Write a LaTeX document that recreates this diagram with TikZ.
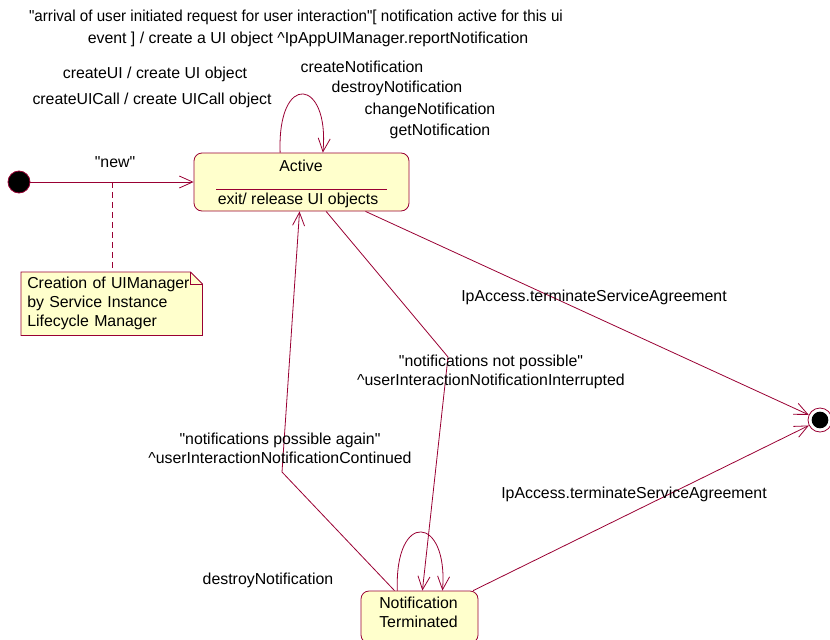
\documentclass[tikz,border=0pt]{standalone}
\usepackage{fontspec}
\setmainfont{Liberation Sans}
\usetikzlibrary{arrows.meta, positioning, backgrounds}
\definecolor{umlline}{RGB}{153, 0, 51}
\definecolor{umlfill}{RGB}{255, 255, 204}

\begin{document}
\begin{tikzpicture}[x=0.75pt, y=-0.75pt,
    lbl/.style={font=\fontsize{11.9}{14.3}\selectfont, inner sep=0pt, align=center},
    state/.style={draw=umlline, fill=umlfill, rounded corners=6pt, line width=0.6pt, inner sep=0pt},
    trans/.style={draw=umlline, line width=0.6pt, -{Straight Barb[length=10pt, width=9pt]}},
    ]
    \useasboundingbox (0,0) rectangle (830,639);

    % states
    \node[circle, fill=black, draw=umlline, line width=0.6pt, minimum size=16.5pt, inner sep=0pt] (init) at (19,182) {};
    \node[state, minimum width=161.25pt, minimum height=43.5pt] (active) at (301.5,182) {};
    \node[lbl] (activename) at (301,166) {Active};
    \draw[umlline, line width=0.6pt] (216,189) -- (387,189);
    \node[lbl] (activeexit) at (298,200) {exit/ release UI objects};
    \node[state, minimum width=87.75pt, minimum height=39pt] (term) at (419.5,617) {};
    \node[lbl] (termname) at (418.5,612.5) {Notification\\Terminated};
    \node[circle, draw=umlline, fill=white, line width=0.6pt, minimum size=18pt, inner sep=0pt] (final) at (820,420) {};
    \node[circle, fill=black, minimum size=12.5pt, inner sep=0pt] (finaldot) at (final) {};

    % note
    \node[lbl, align=left, anchor=north west, text width=126.75pt, inner xsep=4.5pt,
          minimum height=47.25pt] (note) at (21,272) {Creation of UIManager\\by Service Instance\\Lifecycle Manager};
    \begin{scope}[on background layer]
        \filldraw[draw=umlline, fill=umlfill, line width=0.6pt] (note.north west) -- ([xshift=-9pt]note.north east)
            -- ([yshift=-9pt]note.north east) -- (note.south east) -- (note.south west) -- cycle;
        \draw[umlline, line width=0.6pt] ([xshift=-9pt]note.north east) |- ([yshift=-9pt]note.north east);
    \end{scope}

    % transitions
    \draw[trans] (init) -- coordinate[pos=0.5] (newpt) (active);
    \node[lbl] (newlbl) at (115,162) {\textquotedbl new\textquotedbl};
    \draw[umlline, dashed, line width=0.6pt, dash pattern=on 4.5pt off 3pt] (newpt) -- (newpt |- note.north);

    \draw[trans] (active.126.6) .. controls +(-3,-82) and +(7,-74) .. (active.54.7);
    \node[lbl, font=\fontsize{11.9}{16.5}\selectfont] (arrival) at (296,28)
        {\scalebox{0.955}[1]{\textquotedbl arrival of user initiated request for user interaction\textquotedbl[ notification active for this ui}\\
         \hspace*{18pt}event ] / create a UI object \textasciicircum IpAppUIManager.reportNotification};
    \node[lbl] (createui) at (155,74) {createUI / create UI object};
    \node[lbl] (createuicall) at (152,100) {createUICall / create UICall object};
    \node[lbl] (createnot) at (362,67) {createNotification};
    \node[lbl] (destroynot) at (397,88) {destroyNotification};
    \node[lbl] (changenot) at (430,110) {changeNotification};
    \node[lbl] (getnot) at (440,131) {getNotification};

    \draw[trans] (active) -- (final);
    \node[lbl] (termactive) at (594,297) {IpAccess.terminateServiceAgreement};

    \coordinate (dropbend) at (448,357);
    \draw[trans] (active) -- (dropbend) -- (term);
    \node[lbl] (notpossible) at (491,372) {\textquotedbl notifications not possible\textquotedbl\\\textasciicircum userInteractionNotificationInterrupted};

    \coordinate (risebend) at (282,472);
    \draw[trans] (term) -- (risebend) -- (active);
    \node[lbl] (possible) at (280,448) {\textquotedbl notifications possible again\textquotedbl\\\textasciicircum userInteractionNotificationContinued};

    \draw[trans] (term.130.9) .. controls +(-3,-81) and +(6,-75) .. (term.49.1);
    \node[lbl] (destroyterm) at (268,580) {destroyNotification};

    \draw[trans] (term) -- (final);
    \node[lbl] (termterm) at (634,494) {IpAccess.terminateServiceAgreement};
\end{tikzpicture}
\end{document}
